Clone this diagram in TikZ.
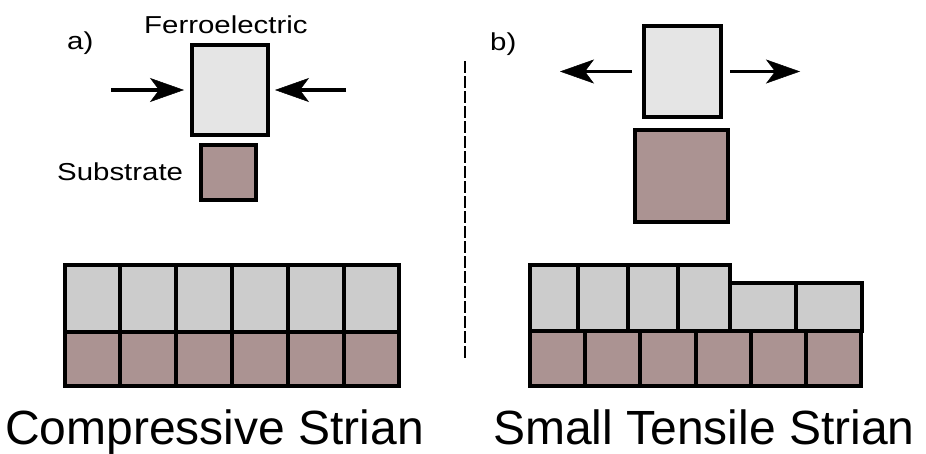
\documentclass[tikz,border=0pt]{standalone}
\usepackage{fontspec}
\usepackage{graphicx}
\setmainfont{Liberation Sans}
\usetikzlibrary{arrows.meta}
\definecolor{ferro}{RGB}{229,229,229}
\definecolor{cellgray}{RGB}{204,204,204}
\definecolor{subst}{RGB}{171,147,146}
\begin{document}
\begin{tikzpicture}[x=1pt,y=-1pt,
  outline/.style={draw=black,line width=4pt,inner sep=0pt,outer sep=0pt},
  ferrobox/.style={outline,fill=ferro},
  subbox/.style={outline,fill=subst},
  cellbox/.style={outline,fill=cellgray},
  push/.style={line width=3.8pt,-{Stealth[length=34pt,width=24pt,inset=9pt,line width=0.5pt]}},
  divider/.style={line width=2.4pt,dash pattern=on 12pt off 3pt},
  smalllabel/.style={inner sep=0pt,anchor=base west,font=\fontsize{24.5}{29}\selectfont},
  biglabel/.style={inner sep=0pt,anchor=base west,font=\fontsize{48}{56}\selectfont},
]
\path[use as bounding box] (0,0) rectangle (926,453);

% ---------- panel a ----------
\node[smalllabel] (la) at (67,49) {\scalebox{1.2}[1]{a)}};
\node[smalllabel] (lferro) at (144,33) {\scalebox{1.2}[1]{Ferroelectric}};
\node[smalllabel] (lsub) at (57,180) {\scalebox{1.2}[1]{Substrate}};
\node[ferrobox,minimum width=76pt,minimum height=90pt] (fa) at (230,90) {};
\node[subbox,minimum width=55pt,minimum height=55pt] (sa) at (228.5,172.5) {};
\coordinate (aleft) at (111,90);
\coordinate (aright) at (346,90);
\draw[push,shorten >=8pt] (aleft) -- (fa.west);
\draw[push,shorten >=7pt] (aright) -- (fa.east);

% lattice a
\foreach \i in {0,...,5}{
  \node[cellbox,minimum width=55.83pt,minimum height=67pt] (ta\i) at ({64.5+55.83*\i+27.92},298) {};
  \node[subbox,minimum width=55.83pt,minimum height=54pt] (ba\i) at ({64.5+55.83*\i+27.92},358.5) {};
}

% divider
\coordinate (dtop) at (465,61);
\coordinate (dbot) at (465,360);
\draw[divider] (dtop) -- (dbot);

% ---------- panel b ----------
\node[smalllabel] (lb) at (490,50) {\scalebox{1.2}[1]{b)}};
\node[ferrobox,minimum width=77pt,minimum height=91pt] (fb) at (682.5,71.5) {};
\node[subbox,minimum width=93pt,minimum height=92pt] (sb) at (681.5,176) {};
\coordinate (bleft) at (560,71.5);
\coordinate (bright) at (800,71.5);
\draw[push,shorten <=12pt] (fb.west) -- (bleft);
\draw[push,shorten <=9pt] (fb.east) -- (bright);

% lattice b (upper row: four tall, two wide)
\node[cellbox,minimum width=48.5pt,minimum height=66.5pt] (tb0) at (553.75,297.75) {};
\node[cellbox,minimum width=50pt,minimum height=66.5pt] (tb1) at (603,297.75) {};
\node[cellbox,minimum width=50pt,minimum height=66.5pt] (tb2) at (653,297.75) {};
\node[cellbox,minimum width=52pt,minimum height=66.5pt] (tb3) at (704,297.75) {};
\node[cellbox,minimum width=66pt,minimum height=48.5pt] (tb4) at (763,306.75) {};
\node[cellbox,minimum width=65.5pt,minimum height=48.5pt] (tb5) at (828.75,306.75) {};
\foreach \i in {0,...,5}{
  \node[subbox,minimum width=55.33pt,minimum height=54.5pt] (bb\i) at ({529.5+55.33*\i+27.67},358.25) {};
}

% ---------- captions ----------
\node[biglabel] (capa) at (5,444) {Compressive Strian};
\node[biglabel] (capb) at (493,444) {Small Tensile Strian};
\end{tikzpicture}
\end{document}
